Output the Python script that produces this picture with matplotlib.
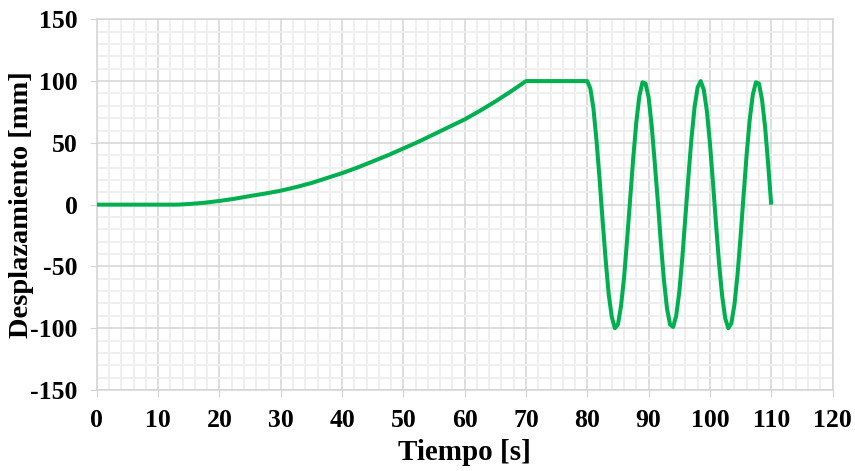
import numpy as np
import matplotlib
matplotlib.use('Agg')
import matplotlib.pyplot as plt
from matplotlib.ticker import MultipleLocator

#=============================================================
#                   data
#=============================================================
# ramp phase: rest, then slow rise up to 100 mm at t = 70 s
t_ramp = [0, 5, 10, 13, 15, 17.5, 20, 22.5, 25, 27.5, 30, 32.5, 35, 37.5,
          40, 42.5, 45, 47.5, 50, 52.5, 55, 57.5, 60, 62.5, 65, 67.5, 70, 80]
d_ramp = [0, 0, 0, 0, 0.5, 1.5, 3, 4.8, 7, 9, 11.3, 14.2, 17.5, 21.5,
          25.5, 30, 35, 40, 45.5, 51, 57, 63, 69, 76, 83.5, 91.5, 100, 100]

# oscillation phase, 80 s - 110 s, every 0.5 s
t_osc = [80 + 0.5*i for i in range(1, 61)]
d_osc = [94, 78, 52, 21, -13, -45, -73, -91, -100, -97,
         -82, -59, -28, 5, 38, 67, 88, 99, 98, 87,
         64, 34, 3, -31, -61, -84, -97, -99, -90, -71,
         -43, -10, 23, 54, 79, 95, 100, 93, 76, 50,
         18, -16, -48, -74, -92, -100, -96, -81, -57, -26,
         8, 41, 69, 89, 99, 98, 85, 63, 33, 0]

a_t = np.array(t_ramp + t_osc)
a_d = np.array(d_ramp + d_osc)

#=============================================================
#                           plot
#=============================================================
plt.rcParams['font.family'] = ['Liberation Serif', 'DejaVu Serif']
plt.rcParams['font.weight'] = 'bold'
plt.rcParams['axes.unicode_minus'] = False

fig = plt.figure(figsize=(8.55, 4.71), dpi=100)
ax = fig.add_axes([0.1133, 0.172, 0.8604, 0.787])

ax.plot(a_t, a_d, color='#00B050', lw=2.9, solid_joinstyle='round',
        solid_capstyle='butt', zorder=3)

ax.set_xlim(0, 120)
ax.set_ylim(-150, 150)
ax.xaxis.set_major_locator(MultipleLocator(10))
ax.xaxis.set_minor_locator(MultipleLocator(2))
ax.yaxis.set_major_locator(MultipleLocator(50))
ax.yaxis.set_minor_locator(MultipleLocator(10))

ax.grid(which='minor', color='#efefef', lw=1.4, zorder=0)
ax.grid(which='major', color='#d4d4d4', lw=1.1, zorder=1)
ax.set_axisbelow(True)

for side in ['top', 'right', 'left', 'bottom']:
    ax.spines[side].set_color('#d4d4d4')
    ax.spines[side].set_linewidth(1.1)

ax.tick_params(axis='both', which='minor', length=0)
ax.tick_params(axis='y', which='major', length=5, color='#d4d4d4',
               labelsize=18.5, pad=9)
ax.tick_params(axis='x', which='major', length=5, color='#d4d4d4',
               labelsize=18.5, pad=9)

ax.set_xlabel('Tiempo [s]', fontsize=21, fontweight='bold', labelpad=5)
ax.set_ylabel('Desplazamiento [mm]', fontsize=20.5, fontweight='bold', labelpad=-3)

fig.savefig('out.png', dpi=100)
